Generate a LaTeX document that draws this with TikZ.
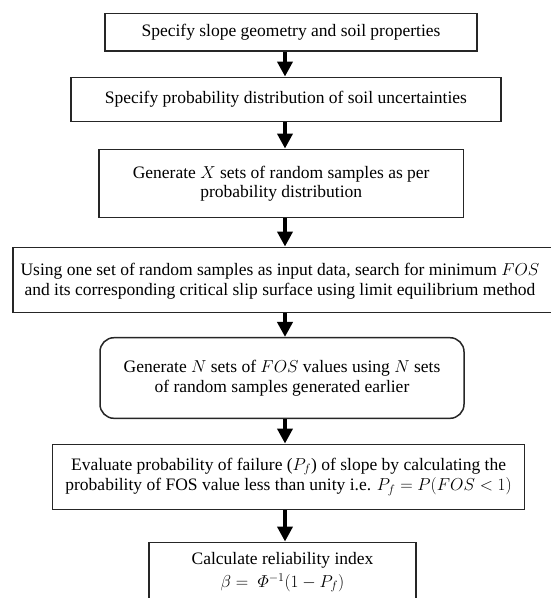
\documentclass[tikz,border=0pt]{standalone}
\usepackage{amsmath}
\usepackage{fontspec}
\setmainfont{Liberation Serif}
\usetikzlibrary{arrows.meta}
\begin{document}
\begin{tikzpicture}[x=1pt,y=-1pt,
  box/.style={draw=black!85, line width=1.5pt, inner sep=0pt, align=center,
    font=\fontsize{17.5}{19.5}\selectfont},
  plain/.style={inner sep=0pt, align=center, font=\fontsize{17.5}{19.5}\selectfont},
  flow/.style={line width=4.2pt, draw=black, -{Triangle[width=15pt,length=15pt]}}]
\useasboundingbox (0,0) rectangle (551,598);
\clip (0,0) rectangle (551,598);
\coordinate (ax) at (285,0);
\node[box, minimum width=372pt, minimum height=37.7pt] (b1) at (291,32.2)
  {Specify slope geometry and soil properties};
\node[box, minimum width=429.7pt, minimum height=44.4pt] (b2) at (285.9,99.5)
  {Specify probability distribution of soil uncertainties};
\node[box, minimum width=364.3pt, minimum height=68.4pt] (b3) at (281.2,183.5)
  {Generate $X$ sets of random samples as per\\ probability distribution};
\node[box, minimum width=557pt, minimum height=65.4pt] (b4) at (291.5,280) {};
\node[plain] (b4t) at (280,281)
  {Using one set of random samples as input data, search for minimum $FOS$\\
   and its corresponding critical slip surface using limit equilibrium method};
\node[box, rounded corners=14pt, minimum width=364pt, minimum height=80.6pt] (b5) at (282,378)
  {Generate $N$ sets of $FOS$ values using $N$ sets\\ of random samples generated earlier};
\node[box, minimum width=471.8pt, minimum height=65pt] (b6) at (288.6,476.8)
  {Evaluate probability of failure ($P_f$) of slope by calculating the\\[1pt]
   probability of FOS value less than unity i.e. $P_f = P(FOS < 1)$};
\node[box, minimum width=267pt, minimum height=60.4pt] (b7) at (282.5,572.5)
  {Calculate reliability index\\[3pt] $\beta = \ \varPhi^{-1}(1 - P_f)$};
\draw[flow] (b1.south -| ax) -- (b2.north -| ax);
\draw[flow] (b2.south -| ax) -- (b3.north -| ax);
\draw[flow] (b3.south -| ax) -- (b4.north -| ax);
\draw[flow] (b4.south -| ax) -- (b5.north -| ax);
\draw[flow] (b5.south -| ax) -- (b6.north -| ax);
\draw[flow] (b6.south -| ax) -- (b7.north -| ax);
\end{tikzpicture}
\end{document}
